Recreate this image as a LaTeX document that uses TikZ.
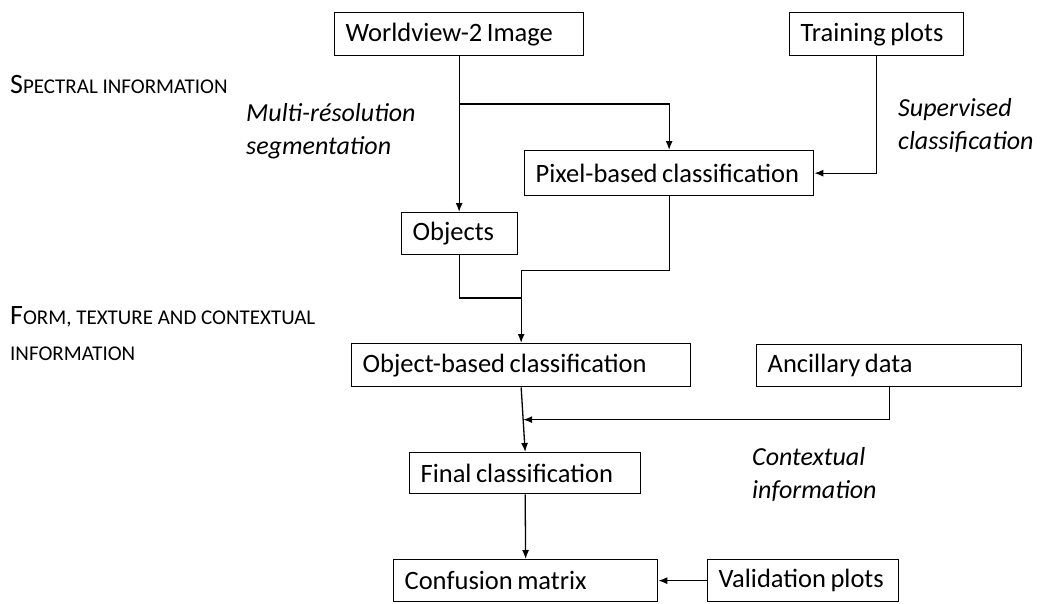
\documentclass[tikz,border=0pt]{standalone}
\usepackage{fontspec}
\setmainfont{Carlito}
\usetikzlibrary{arrows.meta,calc}
\newcommand{\fakesc}[2]{{\fontsize{28}{33}\selectfont #1}{\fontsize{21}{33}\selectfont #2}}
\tikzset{
  box/.style={draw, line width=1.3pt, anchor=north west, inner xsep=11pt, inner ysep=0pt, align=left,
    font=\fontsize{26.5}{31}\selectfont},
  arr/.style={line width=1.3pt, -{Latex[length=9pt,width=7pt]}},
  conn/.style={line width=1.3pt},
  lab/.style={anchor=west, align=left, inner sep=0pt, font=\fontsize{26}{33}\selectfont\itshape},
  sclab/.style={anchor=west, align=left, inner sep=0pt, font=\fontsize{26}{36}\selectfont},
}
\newcommand{\bx}[6]{\node[box, minimum width={(#4-#2)*1pt}, minimum height={(#5-#3)*1pt}, text width={(#4-#2-22)*1pt}] (#1) at (#2,#3) {\spaceskip=0.17em plus 0.05em\relax #6};}
\begin{document}
\begin{tikzpicture}[x=1pt,y=-1pt]
\useasboundingbox (0,0) rectangle (1045,603);
\bx{wv}{334}{12}{583}{55}{Worldview-2 Image}
\bx{tp}{789}{12}{963}{55}{Training plots}
\bx{px}{524}{150}{813}{195}{Pixel-based classification}
\bx{ob}{401}{212}{517}{254}{Objects}
\bx{obc}{351}{343}{690}{386}{Object-based classification}
\bx{anc}{756}{344}{1021}{386}{Ancillary data}
\bx{fin}{409}{452}{640}{493}{Final classification}
\bx{conf}{393}{559}{657}{601}{Confusion matrix}
\bx{val}{707}{559}{898}{601}{Validation plots}

\node[sclab] (l1) at (10,85) {\fakesc{S}{PECTRAL INFORMATION}};
\node[sclab] (l2) at (10,334) {\fakesc{F}{ORM, TEXTURE AND CONTEXTUAL}\\\fakesc{}{INFORMATION}};
\node[lab] (l3) at (246,131) {Multi-résolution\\segmentation};
\node[lab] (l4) at (898,125) {Supervised\\classification};
\node[lab] (l5) at (752,474) {Contextual\\information};

\coordinate (b1) at (459,104);
\draw[arr] (wv.south) -- (wv.south |- ob.north);
\draw[arr] (b1) -| (px.north);
\draw[arr] (tp.south) |- (px.east);
\coordinate (j1) at ($(obc.north)+(0,-45)$);
\draw[conn] (ob.south) |- (j1);
\draw[arr] (px.south) -- ++(0,74) -| (obc.north);
\draw[arr] (obc.south) -- (fin.north);
\coordinate (m1) at ($(obc.south)!0.5!(fin.north)$);
\draw[arr] (anc.south) |- (m1);
\draw[arr] (fin.south) -- (conf.north);
\draw[arr] (val.west) -- (conf.east);
\end{tikzpicture}
\end{document}
